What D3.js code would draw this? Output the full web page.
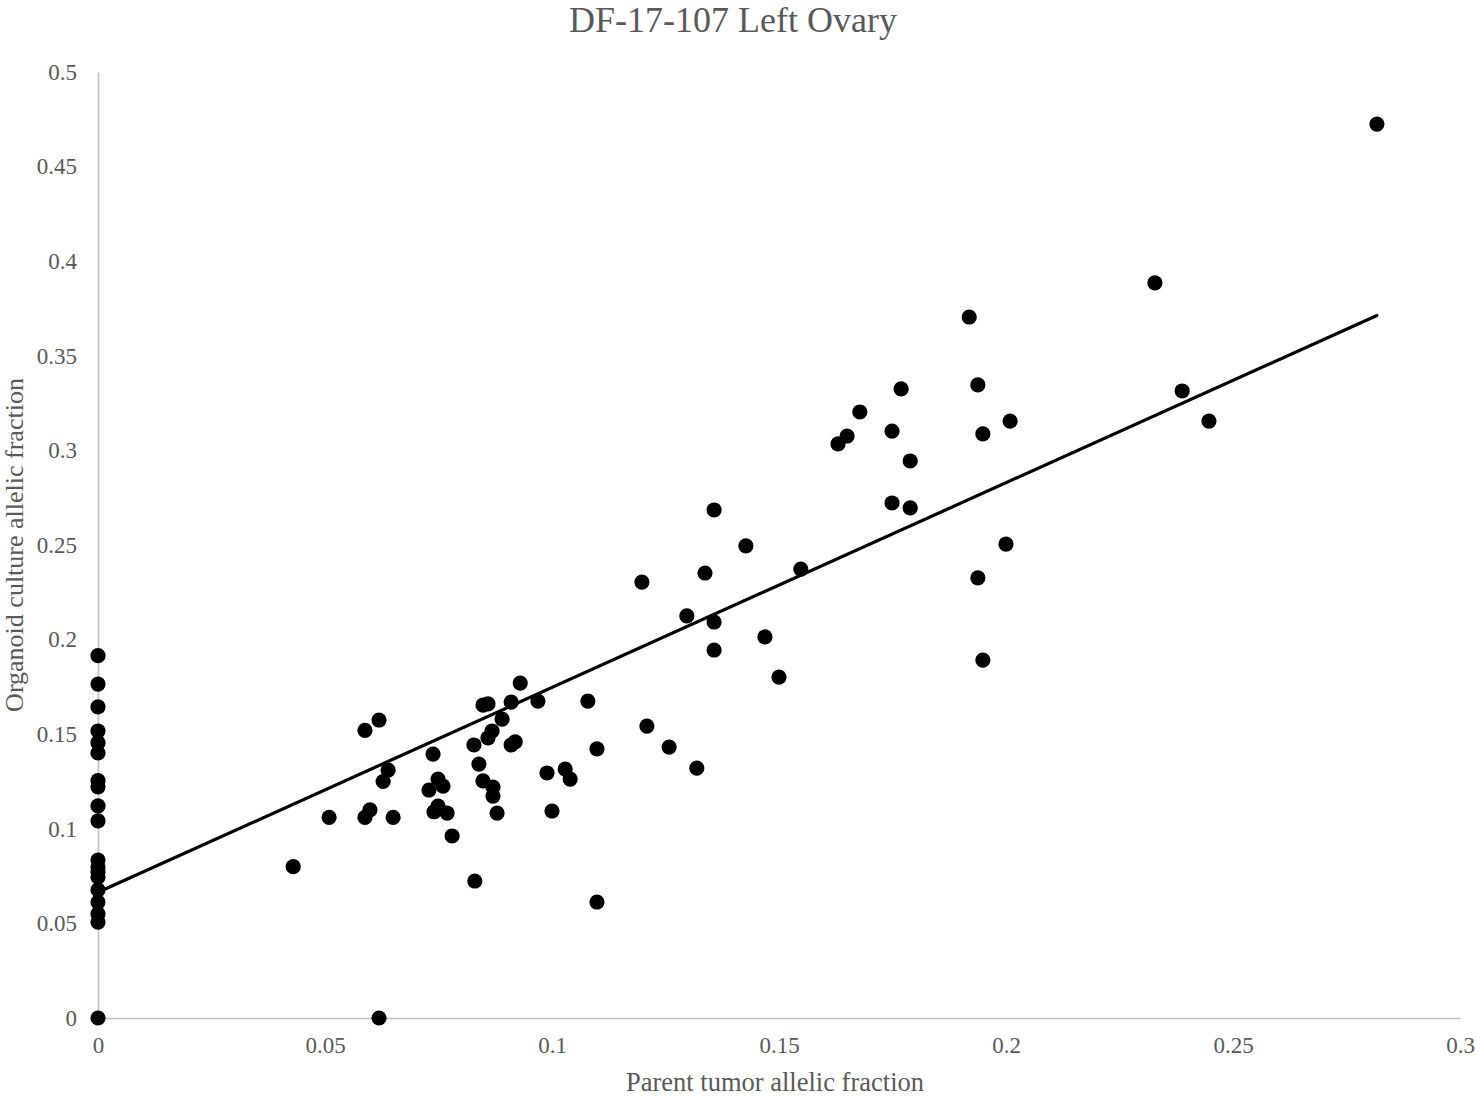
<!DOCTYPE html>
<html>
<head>
<meta charset="utf-8">
<script src="https://cdn.jsdelivr.net/npm/d3@7"></script>
<style>
  html, body { margin: 0; padding: 0; background: #ffffff; }
  svg { display: block; }
</style>
</head>
<body>
<svg id="chart" width="1476" height="1097"></svg>
<script>
// ---- data ----
const chartTitle = "DF-17-107 Left Ovary";
const xLabel = "Parent tumor allelic fraction";
const yLabel = "Organoid culture allelic fraction";
const xTicks = [0, 0.05, 0.1, 0.15, 0.2, 0.25, 0.3];
const yTicks = [0, 0.05, 0.1, 0.15, 0.2, 0.25, 0.3, 0.35, 0.4, 0.45, 0.5];

const parentAF = [
  0, 0, 0, 0, 0, 0, 0, 0, 0, 0, 0, 0, 0, 0, 0, 0, 0, 0, 0,
  0.043, 0.0509, 0.0588, 0.0619, 0.0588, 0.0599, 0.0619, 0.0628, 0.0639, 0.065,
  0.0729, 0.0738, 0.074, 0.0749, 0.0749, 0.076, 0.0769, 0.078,
  0.0828, 0.083, 0.0839, 0.0848, 0.0859, 0.0848, 0.0859, 0.0868, 0.087, 0.087, 0.0879,
  0.089, 0.091, 0.091, 0.0919, 0.093, 0.0969, 0.0989, 0.1, 0.1029, 0.104,
  0.1079, 0.1099, 0.1099, 0.1198, 0.1209, 0.1258, 0.1297, 0.1319, 0.1337,
  0.1357, 0.1357, 0.1357, 0.1427, 0.1469, 0.15, 0.1548,
  0.163, 0.165, 0.1678, 0.1749, 0.1749, 0.1769, 0.1789, 0.1789,
  0.1919, 0.1938, 0.1938, 0.1949, 0.1949, 0.2, 0.2009,
  0.2328, 0.2388, 0.2447, 0.2817
];
const organoidAF = [
  0.1915, 0.1765, 0.1644, 0.1517, 0.1455, 0.1401, 0.1255, 0.1222, 0.1121, 0.1042,
  0.0835, 0.0798, 0.0772, 0.0745, 0.0677, 0.0613, 0.0550, 0.0507, 0,
  0.080, 0.106, 0.152, 0.1575, 0.106, 0.110, 0, 0.125, 0.131, 0.106,
  0.1205, 0.1395, 0.109, 0.1263, 0.112, 0.1226, 0.1083, 0.0962,
  0.1443, 0.0724, 0.1342, 0.1654, 0.166, 0.1253, 0.148, 0.1517, 0.122, 0.1173, 0.1083,
  0.158, 0.167, 0.1443, 0.146, 0.177, 0.1675, 0.1295, 0.1094, 0.1316, 0.1263,
  0.1675, 0.1422, 0.0613, 0.2304, 0.1543, 0.1432, 0.2125, 0.1321, 0.2352,
  0.2685, 0.2093, 0.1945, 0.2495, 0.2014, 0.1802, 0.2373,
  0.3034, 0.3076, 0.3203, 0.3102, 0.2722, 0.3325, 0.2944, 0.2696,
  0.3705, 0.3346, 0.2326, 0.3087, 0.1892, 0.2505, 0.3155,
  0.3885, 0.3314, 0.3155, 0.4725
];

// ---- layout ----
const svg = d3.select("#chart");
const margin = { left: 98, right: 16, top: 72, bottom: 79 };
const W = 1476, H = 1097;

const x = d3.scaleLinear().domain([0, 0.3]).range([margin.left, W - margin.right]);
const y = d3.scaleLinear().domain([0, 0.5]).range([H - margin.bottom, margin.top]);

const textColor = "#595959";
const axisColor = "#bfbfbf";
const font = "'Liberation Serif', 'Times New Roman', serif";

// axes
const xAxis = d3.axisBottom(x).tickValues(xTicks).tickSize(0).tickPadding(19)
  .tickFormat(d => d3.format("")(+d.toFixed(2)));
const yAxis = d3.axisLeft(y).tickValues(yTicks).tickSize(0).tickPadding(21)
  .tickFormat(d => d3.format("")(+d.toFixed(2)));

const gx = svg.append("g").attr("transform", `translate(0,${y(0)})`).call(xAxis);
const gy = svg.append("g").attr("transform", `translate(${x(0)},0)`).call(yAxis);
[gx, gy].forEach(g => {
  g.attr("font-family", font).attr("font-size", 23);
  g.select(".domain").attr("stroke", axisColor).attr("stroke-width", 1.6);
  g.selectAll("text").attr("fill", textColor).style("font-family", font).style("font-size", "23px");
});

// trendline (least-squares fit over the data, spanning the x-range)
const n = parentAF.length;
const mx = d3.mean(parentAF), my = d3.mean(organoidAF);
let sxy = 0, sxx = 0;
for (let i = 0; i < n; i++) { sxy += (parentAF[i] - mx) * (organoidAF[i] - my); sxx += (parentAF[i] - mx) ** 2; }
const slope = sxy / sxx, intercept = my - slope * mx;
const xMin = d3.min(parentAF), xMax = d3.max(parentAF);

// points
const pts = parentAF.map((v, i) => ({ px: v, py: organoidAF[i] }));
svg.append("g").selectAll("circle").data(pts).join("circle")
  .attr("cx", d => x(d.px)).attr("cy", d => y(d.py)).attr("r", 7.6)
  .attr("fill", "#000");

svg.append("line")
  .attr("x1", x(xMin)).attr("y1", y(intercept + slope * xMin))
  .attr("x2", x(xMax)).attr("y2", y(intercept + slope * xMax))
  .attr("stroke", "#000").attr("stroke-width", 3.2).attr("stroke-linecap", "round");

// title and axis labels
svg.append("text").attr("x", 733).attr("y", 32).attr("text-anchor", "middle")
  .attr("fill", textColor).style("font-family", font).style("font-size", "36px").text(chartTitle);
svg.append("text").attr("x", 775).attr("y", 1091).attr("text-anchor", "middle")
  .attr("fill", textColor).style("font-family", font).style("font-size", "26.5px").text(xLabel);
svg.append("text").attr("transform", `translate(23,${(y(0) + y(0.5)) / 2}) rotate(-90)`)
  .attr("text-anchor", "middle")
  .attr("fill", textColor).style("font-family", font).style("font-size", "26px").text(yLabel);
</script>
</body>
</html>
